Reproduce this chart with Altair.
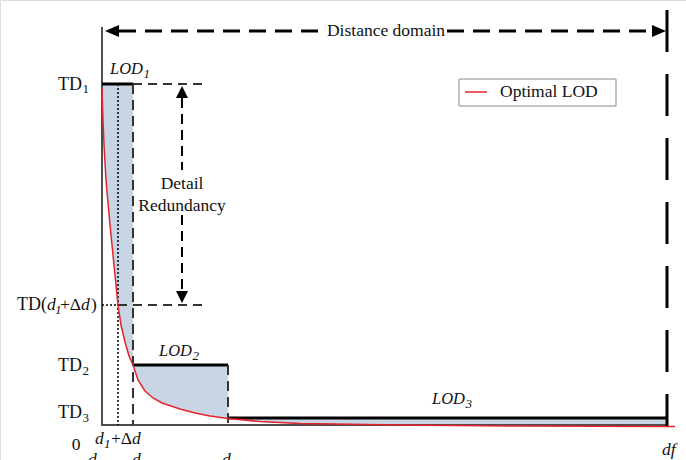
import altair as alt
import pandas as pd

# ---------------- data (x: distance, y: texture detail) ----------------
d_names = ["d1", "d1+Δd", "d2", "d3", "df"]
d_values = [0, 16, 31, 126, 565]
td_names = ["TD1", "TD(d1+Δd)", "TD2", "TD3"]
td_values = [341, 120, 60, 7]

lod_names = ["LOD1", "LOD2", "LOD3"]
lod_start = [0, 31, 126]
lod_end = [31, 126, 565]
lod_level = [341, 60, 7]

# optimal LOD curve
curve_d = [0, 0.5, 1, 2, 4, 6, 8, 11, 14, 16, 19, 23, 27, 31, 36, 43, 51, 60,
           78, 93, 108, 126, 158, 198, 298, 420, 565, 573]
curve_td = [337, 320, 305, 280, 245, 222, 200, 170, 140, 120, 100, 83, 69, 60,
            45, 34, 27, 22, 16, 12, 9, 6.5, 3.5, 1.5, 0, -1, -1.5, -1.5]

D = dict(zip(d_names, d_values))
T = dict(zip(td_names, td_values))

FONT = "Liberation Serif"
FS = 17.5
SUB = 13
SUB_DROP = 3.5
XS = alt.Scale(domain=[-102, 584], range=[0, 686], nice=False, zero=False)
YS = alt.Scale(domain=[-35, 425], nice=False, zero=False)


def X(f="x"):
    return alt.X(f"{f}:Q", scale=XS, axis=None)


def Y(f="y"):
    return alt.Y(f"{f}:Q", scale=YS, axis=None)


# ---------------- fill between LOD steps and curve ----------------
fill_rows = []
for name, s, e, lvl in zip(lod_names, lod_start, lod_end, lod_level):
    for d, t in zip(curve_d, curve_td):
        if s <= d <= e:
            fill_rows.append({"seg": name, "x": d, "y": lvl, "y2": t})
fill_df = pd.DataFrame(fill_rows)
fill = alt.Chart(fill_df).mark_area(color="#c8d5e5", opacity=1).encode(
    x=X(), y=Y(), y2="y2:Q", detail="seg:N")

# ---------------- line segments ----------------
top_y = 394
arrow_x = 80
line_rows = [
    ("axis", D["d1"], D["d1"], 398, -1),
    ("axis", D["d1"], D["df"], 0, 0),
    ("dashv", D["d2"], D["d2"], T["TD1"], 0),
    ("dashv", D["d3"], D["d3"], T["TD2"], 0),
    ("dot", D["d1+Δd"], D["d1+Δd"], T["TD1"], 0),
    ("dashh", D["d2"], 100, T["TD1"], T["TD1"]),
    ("dashh", D["d1+Δd"], 103, T["TD(d1+Δd)"], T["TD(d1+Δd)"]),
    ("dot", D["d1"], D["d1+Δd"], T["TD(d1+Δd)"], T["TD(d1+Δd)"]),
    ("redund", arrow_x, arrow_x, 327, 255),
    ("redund", arrow_x, arrow_x, 210, 134),
    ("bigh", 17, 222, top_y, top_y),
    ("bigh", 345, 550, top_y, top_y),
    ("bigv", D["df"], D["df"], 415, -2),
]
for s, e, lvl in zip(lod_start, lod_end, lod_level):
    line_rows.append(("step", s, e, lvl, lvl))
lines_df = pd.DataFrame(line_rows, columns=["kind", "x", "x2", "y", "y2"])

styles = {
    "axis": dict(color="#4d4d4d", strokeWidth=2),
    "step": dict(color="black", strokeWidth=3),
    "dashv": dict(color="#333333", strokeWidth=2, strokeDash=[10, 6]),
    "dashh": dict(color="#333333", strokeWidth=2, strokeDash=[9, 6]),
    "dot": dict(color="black", strokeWidth=1.5, strokeDash=[2, 2]),
    "redund": dict(color="black", strokeWidth=2, strokeDash=[10, 6]),
    "bigh": dict(color="black", strokeWidth=3, strokeDash=[17, 9]),
    "bigv": dict(color="black", strokeWidth=3, strokeDash=[42, 22]),
}
order = ["axis", "step", "dashv", "dashh", "dot", "redund", "bigh", "bigv"]
line_layers = []
for k in order:
    line_layers.append(
        alt.Chart(lines_df[lines_df.kind == k]).mark_rule(**styles[k]).encode(
            x=X(), x2="x2:Q", y=Y(), y2="y2:Q"))

# ---------------- curve ----------------
curve_df = pd.DataFrame({"x": curve_d, "y": curve_td})
curve = alt.Chart(curve_df).mark_line(color="#e3242b", strokeWidth=1.5).encode(
    x=X(), y=Y())

# ---------------- arrowheads ----------------
arrows_df = pd.DataFrame({
    "x": [3, 564, arrow_x, arrow_x],
    "y": [top_y, top_y, 339, 122],
    "shape": ["M0,0L2,-0.85L2,0.85Z", "M0,0L-2,-0.85L-2,0.85Z",
              "M0,0L-1,2L1,2Z", "M0,0L-1,-2L1,-2Z"],
    "size": [196, 196, 144, 144],
})
arrows = alt.Chart(arrows_df).mark_point(filled=True, color="black", opacity=1,
                                         strokeWidth=0).encode(
    x=X(), y=Y(),
    shape=alt.Shape("shape:N", scale=None),
    size=alt.Size("size:Q", scale=None))

# ---------------- legend ----------------
legend_box = alt.Chart(pd.DataFrame({"x": [357], "x2": [514], "y": [346], "y2": [319]})
                       ).mark_rect(fill="white", stroke="#8a8a8a", strokeWidth=1).encode(
    x=X(), x2="x2:Q", y=Y(), y2="y2:Q")
legend_line = alt.Chart(pd.DataFrame({"x": [363], "x2": [385], "y": [333]})
                        ).mark_rule(color="#e3242b", strokeWidth=1.5).encode(
    x=X(), x2="x2:Q", y=Y())

# ---------------- texts ----------------
# (text, x, y, italic, align, baseline, size)
texts = []


def sub_label(main, sub, split, base, italic, size=FS):
    texts.append((main, split, base, italic, "right", "alphabetic", size))
    texts.append((sub, split + 0.5, base - SUB_DROP, italic, "left", "alphabetic", SUB))


sub_label("TD", "1", -20, T["TD1"] - 5.5, False, 18)
sub_label("TD", "2", -20, T["TD2"] - 6, False, 18)
sub_label("TD", "3", -20, T["TD3"], False, 18)
sub_label("LOD", "1", 41, 351, True, 16.5)
sub_label("LOD", "2", 90, 69, True, 16.5)
sub_label("LOD", "3", 363, 21, True, 16.5)
# TD(d1+Δd)
yb = T["TD(d1+Δd)"] - 5
texts += [
    ("TD(", -55, yb, False, "right", "alphabetic", 18),
    ("d", -55, yb, True, "left", "alphabetic", FS),
    ("1", -47, yb - SUB_DROP, True, "left", "alphabetic", SUB),
    ("+Δ", -42, yb, False, "left", "alphabetic", FS),
    ("d", -21, yb, True, "left", "alphabetic", FS),
    (")", -11, yb, False, "left", "alphabetic", FS),
]
# x-axis labels
bot = -40
texts += [
    ("0", -26, -25, False, "center", "alphabetic", FS),
    ("d", -7, -19, True, "left", "alphabetic", FS),
    ("1", 2, -19 - SUB_DROP, True, "left", "alphabetic", SUB),
    ("+Δ", 9, -19, False, "left", "alphabetic", FS),
    ("d", 30, -19, True, "left", "alphabetic", FS),
    ("d", -14, bot, True, "left", "alphabetic", FS),
    ("1", -5, bot - SUB_DROP, True, "left", "alphabetic", SUB),
    ("d", 30, bot, True, "left", "alphabetic", FS),
    ("2", 39, bot - SUB_DROP, True, "left", "alphabetic", SUB),
    ("d", 120, bot, True, "left", "alphabetic", FS),
    ("3", 129, bot - SUB_DROP, True, "left", "alphabetic", SUB),
    ("df", 560, -30, True, "left", "alphabetic", FS),
]
texts += [
    ("Distance domain", 284, top_y, False, "center", "middle", FS),
    ("Detail", arrow_x, 236, False, "center", "alphabetic", FS),
    ("Redundancy", arrow_x, 214, False, "center", "alphabetic", FS),
    ("Optimal LOD", 398, 328, False, "left", "alphabetic", FS),
]
text_df = pd.DataFrame(texts, columns=["text", "x", "y", "italic", "align",
                                       "baseline", "size"])
text_layers = []
for (it, al, bl), g in text_df.groupby(["italic", "align", "baseline"]):
    text_layers.append(
        alt.Chart(g).mark_text(font=FONT, color="#111111",
                               fontStyle="italic" if it else "normal",
                               align=al, baseline=bl).encode(
            x=X(), y=Y(), text="text:N",
            size=alt.Size("size:Q", scale=None)))

chart = alt.layer(
    fill, *line_layers, curve, arrows, legend_box, legend_line, *text_layers
).properties(
    width=686, height=460, autosize=alt.AutoSizeParams(type="none"), padding=0
).configure_view(stroke=None).configure(background="white")

chart.save("out.html", embed_options={"renderer": "svg", "actions": False})
